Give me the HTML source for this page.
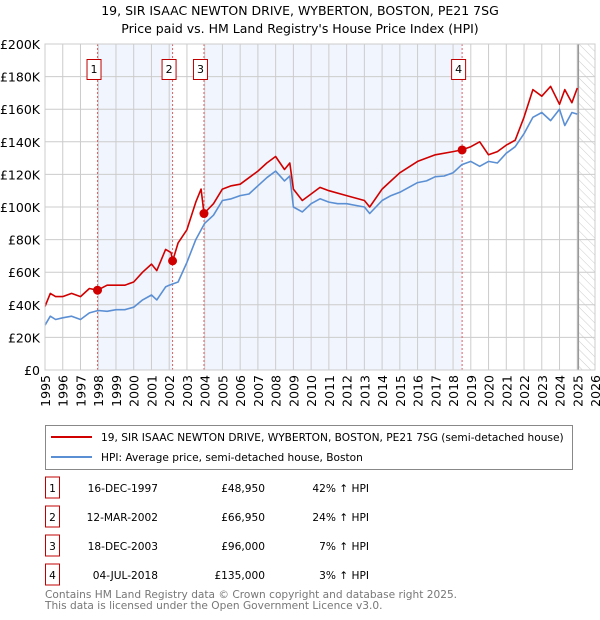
<!DOCTYPE html>
<html><head><meta charset="utf-8"><style>
body{margin:0;background:#fff;font-family:"DejaVu Sans","Liberation Sans",sans-serif}
#wrap{position:relative;width:600px;height:620px;overflow:hidden}
svg text{font-family:"DejaVu Sans","Liberation Sans",sans-serif}
</style></head><body><div id="wrap">
<svg id="svg" width="600" height="620" xmlns="http://www.w3.org/2000/svg"></svg>
</div>
<script>
const hpiYears=[1995,1995.3,1995.6,1996,1996.5,1997,1997.5,1998,1998.5,1999,1999.5,2000,2000.5,2001,2001.3,2001.8,2002,2002.5,2003,2003.5,2004,2004.5,2005,2005.5,2006,2006.5,2007,2007.5,2008,2008.5,2008.8,2009,2009.5,2010,2010.5,2011,2011.5,2012,2012.5,2013,2013.3,2014,2014.5,2015,2015.5,2016,2016.5,2017,2017.5,2018,2018.5,2019,2019.5,2020,2020.5,2021,2021.5,2022,2022.5,2023,2023.5,2024,2024.3,2024.7,2025];
const hpiValues=[27.5,33,31,32,33,31,35,36.5,36,37,37,38.5,43,46,43,51,52,54,66,80,90,95,104,105,107,108,113,118,122,116,119,100,97,102,105,103,102,102,101,100,96,104,107,109,112,115,116,118.6,119,121,126,128,125,128,127,133,137,145,155,158,153,160,150,158,157];
const redYears=[1995,1995.3,1995.6,1996,1996.5,1997,1997.5,1997.96,1998.5,1999,1999.5,2000,2000.5,2001,2001.3,2001.8,2002.1,2002.2,2002.5,2003,2003.5,2003.8,2003.96,2004.5,2005,2005.5,2006,2006.5,2007,2007.5,2008,2008.5,2008.8,2009,2009.5,2010,2010.5,2011,2012,2013,2013.3,2014,2014.5,2015,2016,2017,2018,2018.5,2019,2019.5,2020,2020.5,2021,2021.5,2022,2022.5,2023,2023.5,2024,2024.3,2024.7,2025];
const redValues=[39,47,45,45,47,45,50,48.95,52,52,52,54,60,65,61,74,72,67,78,86,103,111,96,102,111,113,114,118,122,127,131,123,127,111,104,108,112,110,107,104,100,111,116,121,128,132,134,135,137,140,132,134,138,141,155,172,168,174,163,172,164,173,173];
const saleYears=[1997.96,2002.19,2003.96,2018.51];
const saleValues=[48.95,66.95,96,135];
const saleLabels=["1","2","3","4"];
const yTicks=[0,20,40,60,80,100,120,140,160,180,200];
const yTickLabels=["£0","£20K","£40K","£60K","£80K","£100K","£120K","£140K","£160K","£180K","£200K"];
const xTicks=[1995,1996,1997,1998,1999,2000,2001,2002,2003,2004,2005,2006,2007,2008,2009,2010,2011,2012,2013,2014,2015,2016,2017,2018,2019,2020,2021,2022,2023,2024,2025,2026];

const X0=45,X1=595,Y0=370,Y1=44;
const xs=y=>X0+(y-1995)/31*(X1-X0);
const ys=v=>Y0-v/200*(Y0-Y1);
const svg=document.getElementById('svg');
const NS="http://www.w3.org/2000/svg";
function mk(tag,attrs,text){const e=document.createElementNS(NS,tag);for(const k in attrs)e.setAttribute(k,attrs[k]);if(text!=null)e.textContent=text;svg.appendChild(e);return e;}

let t=mk('text',{x:300,y:15,'text-anchor':'middle','font-size':'12.5'},"19, SIR ISAAC NEWTON DRIVE, WYBERTON, BOSTON, PE21 7SG");


t=mk('text',{x:300,y:33,'text-anchor':'middle','font-size':'12.5'},"Price paid vs. HM Land Registry's House Price Index (HPI)");



let r=mk('rect',{x:xs(saleYears[0]),y:Y1,width:xs(saleYears[1])-xs(saleYears[0]),height:Y0-Y1,fill:'#eef3fd',opacity:0.8});


r=mk('rect',{x:xs(saleYears[2]),y:Y1,width:xs(saleYears[3])-xs(saleYears[2]),height:Y0-Y1,fill:'#eef3fd',opacity:0.8});


const defs=mk('defs',{});
defs.innerHTML='<pattern id="h" width="6" height="6" patternUnits="userSpaceOnUse" patternTransform="rotate(-45)"><line x1="0" y1="0" x2="0" y2="6" stroke="#ccc" stroke-width="1"/></pattern>';
r=mk('rect',{x:xs(2025.06),y:Y1,width:X1-xs(2025.06),height:Y0-Y1,fill:'url(#h)'});



yTicks.forEach((v,i)=>{
 let l=mk('line',{x1:X0,x2:X1,y1:ys(v),y2:ys(v),stroke:'#cccccc','stroke-width':1});
 
 
 let tx=mk('text',{x:40,y:ys(v)+5,'text-anchor':'end','font-size':'12.5'},yTickLabels[i]);
 
 
});
xTicks.forEach(y=>{
 let l=mk('line',{x1:xs(y),x2:xs(y),y1:Y1,y2:Y0,stroke:'#cccccc','stroke-width':1});
 
 
 let tx=mk('text',{x:0,y:0,'text-anchor':'end','font-size':'12.5',transform:`translate(${xs(y)+5},375) rotate(-90)`},String(y));
 
 
});
let vl=mk('line',{x1:xs(2025.06),x2:xs(2025.06),y1:Y1,y2:Y0,stroke:'#999','stroke-width':1.5});



saleYears.forEach((y,i)=>{
 let l=mk('line',{x1:xs(y),x2:xs(y),y1:Y1,y2:Y0,stroke:'#e06060','stroke-width':1,'stroke-dasharray':'2,2'});
 
 
 let b=mk('rect',{x:xs(y)-10.5,y:59.5,width:14,height:20,fill:'#fff',stroke:'#c00000','stroke-width':1});
 
 
 let tx=mk('text',{x:xs(y)-3.5,y:73,'text-anchor':'middle','font-size':'11'},saleLabels[i]);
 
 
});

function path(xa,va,col,name){
 let d=xa.map((y,i)=>(i?'L':'M')+xs(y).toFixed(1)+','+ys(va[i]).toFixed(1)).join('');
 let p=mk('path',{d:d,fill:'none',stroke:col,'stroke-width':1.6,'stroke-linejoin':'round'});
 
 
}
path(hpiYears,hpiValues,'#5b8fd4','hpi-line');
path(redYears,redValues,'#d00000','price-paid-line');
saleYears.forEach((y,i)=>{
 let c=mk('circle',{cx:xs(y),cy:ys(saleValues[i]),r:4.5,fill:'#d00000'});
 
 
});
let ax=mk('rect',{x:X0,y:Y1,width:X1-X0,height:Y0-Y1,fill:'none',stroke:'#cccccc'});



let lg=mk('rect',{x:45.5,y:425.5,width:527,height:44,fill:'#fff',stroke:'#888'});


let ll=mk('line',{x1:51,x2:92,y1:437,y2:437,stroke:'#d00000','stroke-width':2});


ll=mk('line',{x1:51,x2:92,y1:457,y2:457,stroke:'#5b8fd4','stroke-width':2});


t=mk('text',{x:101,y:441,'font-size':'10.6'},"19, SIR ISAAC NEWTON DRIVE, WYBERTON, BOSTON, PE21 7SG (semi-detached house)");


t=mk('text',{x:101,y:461,'font-size':'10.6'},"HPI: Average price, semi-detached house, Boston");



const rows=[["1","16-DEC-1997","£48,950","42% ↑ HPI"],["2","12-MAR-2002","£66,950","24% ↑ HPI"],["3","18-DEC-2003","£96,000","7% ↑ HPI"],["4","04-JUL-2018","£135,000","3% ↑ HPI"]];
const rowY=[488,517,546,575];
rows.forEach((rw,i)=>{
 let y=rowY[i];
 let b=mk('rect',{x:45.5,y:y-11,width:14,height:21,fill:'#fff',stroke:'#c00000'});
 
 
 let tx=mk('text',{x:52.5,y:y+4,'text-anchor':'middle','font-size':'10.6'},rw[0]);
 
 
 tx=mk('text',{x:158,y:y+4,'text-anchor':'end','font-size':'10.6'},rw[1]);
 
 
 tx=mk('text',{x:265,y:y+4,'text-anchor':'end','font-size':'10.6'},rw[2]);
 
 
 tx=mk('text',{x:369,y:y+4,'text-anchor':'end','font-size':'10.6'},rw[3]);
 
 
});
t=mk('text',{x:45,y:598,'font-size':'10.6',fill:'#777'},"Contains HM Land Registry data © Crown copyright and database right 2025.");


t=mk('text',{x:45,y:609,'font-size':'10.6',fill:'#777'},"This data is licensed under the Open Government Licence v3.0.");


</script></body></html>
